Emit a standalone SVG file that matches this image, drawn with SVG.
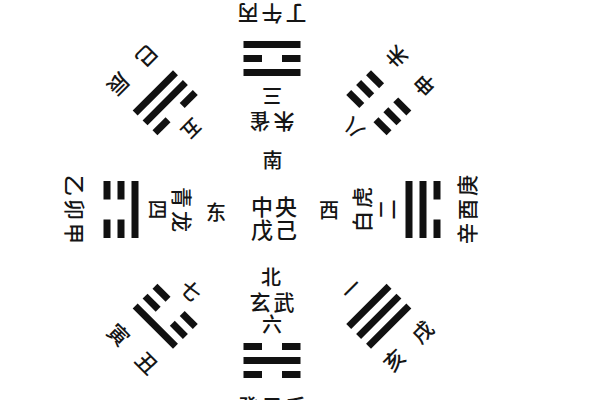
<svg xmlns="http://www.w3.org/2000/svg" xmlns:xlink="http://www.w3.org/1999/xlink" width="600" height="400" viewBox="0 0 600 400">
<style>
.t{font-family:"Noto Sans CJK SC","Noto Sans CJK TC",sans-serif;font-size:21px;font-weight:500;fill:#151515;text-anchor:middle;dominant-baseline:central}
.n{font-size:20px}
.c{font-size:22px}
.line{fill:#111}
</style>
<defs>
<g id="yang"><rect class="line" x="-28.5" y="-3.5" width="57" height="7"/></g>
<g id="yin"><rect class="line" x="-28.5" y="-3.5" width="18.5" height="7"/><rect class="line" x="10" y="-3.5" width="18.5" height="7"/></g>
</defs>
<rect width="600" height="400" fill="#fff"/>

<g id="center">
<text class="t c" x="262" y="205">中</text><text class="t c" x="286" y="205">央</text>
<text class="t c" x="262" y="228">戊</text><text class="t c" x="286" y="228">己</text>
</g>
<g id="directions">
<text class="t n" x="272.5" y="159">南</text>
<text class="t n" x="271" y="276.5">北</text>
<text class="t n" x="216" y="211">东</text>
<text class="t n" x="329" y="209.5">西</text>
</g>

<g id="north" transform="translate(272 209.5) rotate(0)">
<use xlink:href="#yin" y="137"/><use xlink:href="#yang" y="151"/><use xlink:href="#yin" y="165"/>
<text class="t n" y="114">六</text>
<text class="t" x="-12 12" y="91">玄武</text>
<text class="t" x="-24 0 24" y="195">癸子壬</text>
</g>
<g id="northeast" transform="translate(272 209.5) rotate(45)">
<use xlink:href="#yin" y="137"/><use xlink:href="#yin" y="151"/><use xlink:href="#yang" y="165"/>
<text class="t n" y="114">七</text>
<text class="t" x="-20 20" y="196">寅丑</text>
</g>
<g id="east" transform="translate(272 209.5) rotate(90)">
<use xlink:href="#yang" y="137"/><use xlink:href="#yin" y="151"/><use xlink:href="#yin" y="165"/>
<text class="t n" y="114">四</text>
<text class="t" x="-12 12" y="89.5">青龙</text>
<text class="t" x="-24 0 24" y="196">乙卯甲</text>
</g>
<g id="southeast" transform="translate(272 209.5) rotate(135)">
<use xlink:href="#yin" y="137"/><use xlink:href="#yang" y="151"/><use xlink:href="#yang" y="165"/>
<text class="t n" y="113">五</text>
<text class="t" x="-20 20" y="196">巳辰</text>
</g>
<g id="south" transform="translate(272 209.5) rotate(180)">
<use xlink:href="#yang" y="137"/><use xlink:href="#yin" y="151"/><use xlink:href="#yang" y="165"/>
<text class="t n" y="113.5">三</text>
<text class="t" x="-12 12" y="86.5">朱雀</text>
<text class="t" x="-24 0 24" y="194.5">丁午丙</text>
</g>
<g id="southwest" transform="translate(272 209.5) rotate(225)">
<use xlink:href="#yin" y="137"/><use xlink:href="#yin" y="151"/><use xlink:href="#yin" y="165"/>
<text class="t n" y="114">八</text>
<text class="t" x="-20 20" y="195">申未</text>
</g>
<g id="west" transform="translate(272 209.5) rotate(270)">
<use xlink:href="#yang" y="137"/><use xlink:href="#yang" y="151"/><use xlink:href="#yin" y="165"/>
<text class="t n" y="114.5">二</text>
<text class="t" x="-12 12" y="89">白虎</text>
<text class="t" x="-24 0 24" y="194">辛酉庚</text>
</g>
<g id="northwest" transform="translate(272 209.5) rotate(315)">
<use xlink:href="#yang" y="137"/><use xlink:href="#yang" y="151"/><use xlink:href="#yang" y="165"/>
<text class="t n" y="111">一</text>
<text class="t" x="-20 20" y="192">亥戌</text>
</g>
<g id="connectors"/>
</svg>
